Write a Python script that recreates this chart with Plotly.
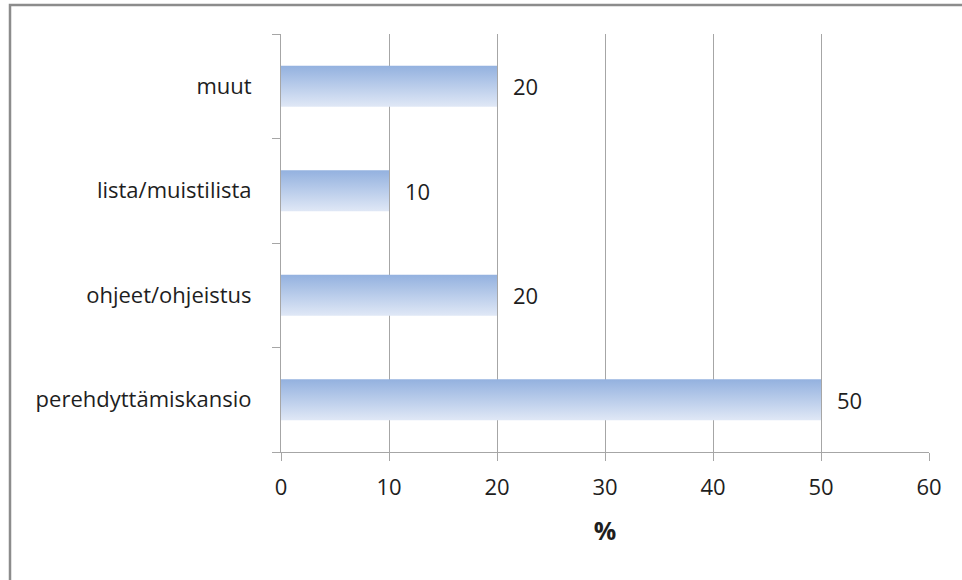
import plotly.graph_objects as go

# Survey answers: share of respondents (%) per induction material type
categories = ["perehdyttämiskansio", "ohjeet/ohjeistus", "lista/muistilista", "muut"]
values = [50, 20, 10, 20]
x_ticks = [0, 10, 20, 30, 40, 50, 60]
x_title = "%"

BAR_HALF = 0.197         # half bar thickness, in category units
TOP_BLUE = "#93B1DF"
BOTTOM_BLUE = "#E0E8F6"
GRID = "#A6A6A6"
FONT = "'Open Sans', sans-serif"
TEXT = "#1E1E1E"
SIZE = 22

fig = go.Figure()

# Horizontal bars drawn as filled polygons so each can carry a vertical gradient
for i, (cat, v) in enumerate(zip(categories, values)):
    fig.add_trace(go.Scatter(
        x=[0, v, v, 0, 0],
        y=[i - BAR_HALF, i - BAR_HALF, i + BAR_HALF, i + BAR_HALF, i - BAR_HALF],
        mode="lines",
        line=dict(width=0),
        fill="toself",
        fillgradient=dict(type="vertical",
                          colorscale=[[0, BOTTOM_BLUE], [1, TOP_BLUE]]),
        name=cat,
        hoverinfo="skip",
        showlegend=False,
    ))
    fig.add_annotation(
        x=v, y=i, text=str(v), showarrow=False,
        xanchor="left", xshift=14,
        font=dict(family=FONT, size=SIZE, color=TEXT),
    )

fig.update_xaxes(
    range=[0, 60],
    tickvals=x_ticks,
    showgrid=True, gridcolor=GRID, gridwidth=1,
    showline=True, linecolor=GRID, linewidth=1,
    ticks="outside", ticklen=8, tickcolor=GRID,
    ticklabelstandoff=8,
    zeroline=False,
    tickfont=dict(family=FONT, size=SIZE, color=TEXT),
    title=dict(text="<b>" + x_title + "</b>", standoff=22,
               font=dict(family=FONT, size=25, color=TEXT)),
    fixedrange=True,
)
fig.update_yaxes(
    range=[-0.5, len(categories) - 0.5],
    tickvals=list(range(len(categories))),
    ticktext=categories,
    ticks="", showgrid=False, zeroline=False,
    showline=True, linecolor=GRID, linewidth=1,
    ticklabelstandoff=24,
    minor=dict(tickmode="linear", tick0=-0.5, dtick=1,
               ticks="outside", ticklen=8, tickcolor=GRID, showgrid=False),
    tickfont=dict(family=FONT, size=SIZE, color=TEXT),
    fixedrange=True,
)

# Outer chart frame (top and left edges visible)
fig.add_shape(type="rect", xref="paper", yref="paper",
              x0=(10 - 281) / 648, x1=(975 - 281) / 648,
              y0=(452 - 600) / 418, y1=(452 - 5) / 418,
              line=dict(color="#8C8C8C", width=2.5), layer="below")

fig.update_layout(
    width=962, height=580,
    margin=dict(l=281, r=33, t=34, b=128),
    plot_bgcolor="white", paper_bgcolor="white",
    showlegend=False,
)

fig.write_html("out.html")
